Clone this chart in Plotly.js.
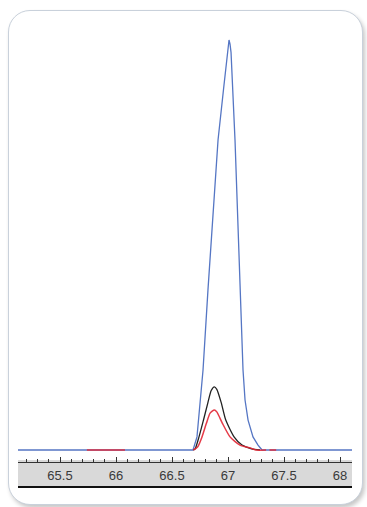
<!DOCTYPE html>
<html>
<head>
<meta charset="utf-8">
<script src="https://cdn.plot.ly/plotly-3.0.1.min.js"></script>
<style>
  html, body { margin:0; padding:0; background:#ffffff; width:367px; height:507px; overflow:hidden; }
  #card { position:absolute; left:8px; top:10px; width:353px; height:493px; border:1.5px solid #c9d1db; border-radius:22px; background:#fff; box-shadow:2px 3px 4px rgba(0,0,0,0.22); }
  #chart { position:absolute; left:0; top:0; width:367px; height:507px; }
</style>
</head>
<body>
<div id="card"></div>
<div id="chart"></div>
<script>
// Blue trace (tall peak)
const blueX = [65.0, 66.67, 66.6875, 66.723, 66.75, 66.777, 66.821, 66.866, 66.911, 66.96, 67.009, 67.018, 67.027, 67.0625, 67.107, 67.134, 67.152, 67.179, 67.223, 67.268, 67.304, 68.3];
const blueY = [0, 0, 0, 3.2, 12.2, 19.5, 39.0, 57.3, 75.6, 88, 100, 99, 97, 75.6, 39.0, 19.5, 12.2, 7.3, 3.2, 1.2, 0, 0];

// Black trace
const blackX = [66.69, 66.705, 66.741, 66.78, 66.82, 66.85, 66.878, 66.90, 66.94, 66.98, 67.054, 67.125, 67.21, 67.286];
const blackY = [0, 0.2, 3.2, 7.2, 11.5, 14.5, 15.4, 14.8, 11.5, 7.3, 3.2, 1.2, 0.3, 0];

// Red trace
const redX = [65.74, 66.08, null, 66.69, 66.73, 66.768, 66.807, 66.84, 66.878, 66.90, 66.95, 67.018, 67.107, 67.21, 67.25, 67.34, null, 67.37, 67.43];
const redY = [0, 0, null, 0, 0.8, 3.2, 6.5, 9.0, 9.76, 9.3, 6.5, 3.2, 1.2, 0.4, 0, 0, null, 0, 0];

const xRange = [65.125, 68.107];
const yRange = [-2.927, 102.44];

const traces = [
  {x: blueX, y: blueY, mode:'lines', line:{color:'#5576c4', width:1.3}, hoverinfo:'skip'},
  {x: blackX, y: blackY, mode:'lines', line:{color:'#222222', width:1.3, shape:'spline', smoothing:0.6}, hoverinfo:'skip'},
  {x: redX, y: redY, mode:'lines', line:{color:'rgba(226,38,52,0.9)', width:1.5, shape:'spline', smoothing:0.6}, connectgaps:false, hoverinfo:'skip'}
];

const bandBottom = -(487 - 462) / 432;
const bandTop = 2 / 432;

const layout = {
  width:367, height:507,
  margin:{l:18, r:15, t:30, b:45, pad:0},
  paper_bgcolor:'rgba(0,0,0,0)',
  plot_bgcolor:'rgba(0,0,0,0)',
  showlegend:false,
  xaxis:{
    range:xRange, dtick:0.5, tick0:65, ticks:'inside', ticklen:5, tickwidth:1, tickcolor:'#333',
    showline:true, linecolor:'#333', linewidth:1, showgrid:false, zeroline:false,
    tickfont:{family:'Liberation Sans Narrow, Arial Narrow, Liberation Sans, sans-serif', size:13, color:'#3a3a3a'},
    minor:{dtick:0.1, ticks:'inside', ticklen:3, tickcolor:'#333', showgrid:false},
    ticklabelstandoff:1
  },
  yaxis:{range:yRange, visible:false, fixedrange:true},
  shapes:[
    {type:'rect', xref:'paper', yref:'paper', x0:0, x1:1, y0:bandBottom, y1:bandTop, fillcolor:'#d9d9d9', line:{width:0}, layer:'below'},
    {type:'line', xref:'paper', yref:'paper', x0:0, x1:1, y0:bandBottom, y1:bandBottom, line:{color:'#111', width:2}, layer:'below'}
  ]
};

Plotly.newPlot('chart', traces, layout, {displayModeBar:false, staticPlot:true});
</script>
</body>
</html>
